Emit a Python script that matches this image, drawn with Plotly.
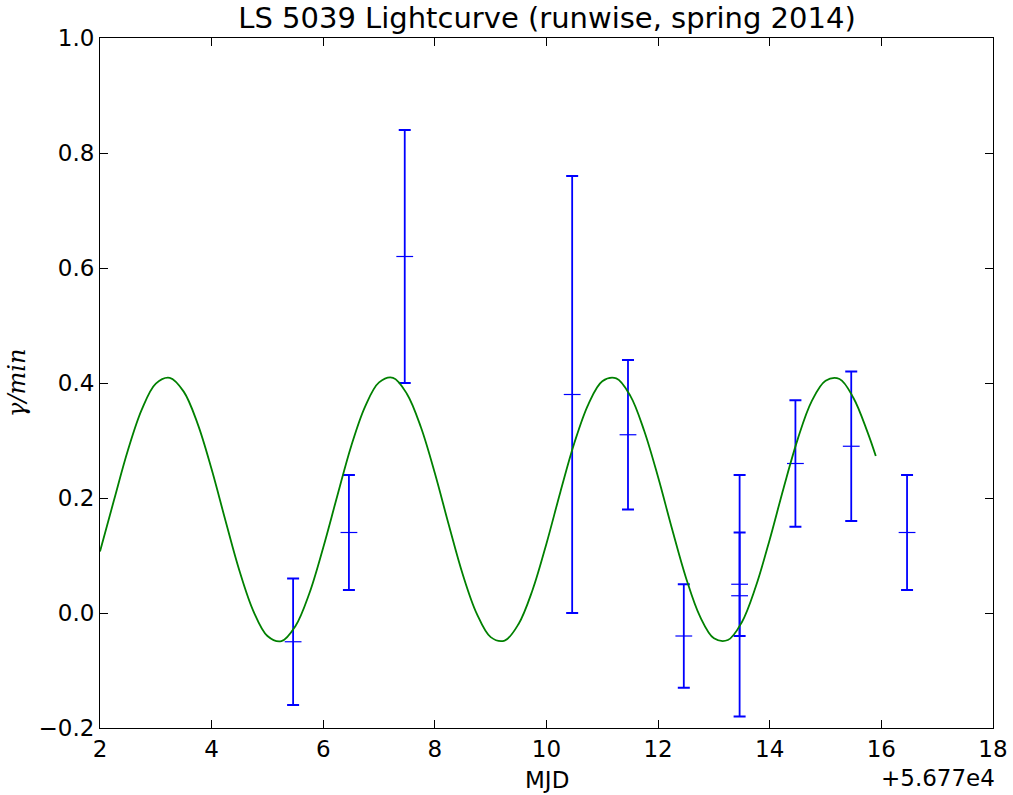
import plotly.graph_objects as go

# Measured points (MJD offset from 56770)
mjd = [5.46, 6.46, 7.46, 10.46, 11.46, 12.46, 13.46, 13.46, 14.46, 15.46, 16.46]
rate = [-0.05, 0.14, 0.62, 0.38, 0.31, -0.04, 0.03, 0.05, 0.26, 0.29, 0.14]
rate_err = [0.11, 0.10, 0.22, 0.38, 0.13, 0.09, 0.21, 0.09, 0.11, 0.13, 0.10]

# Model curve
curve_x = [2.0, 2.25, 2.5, 2.75, 3.0, 3.25, 3.5, 3.75, 4.0, 4.25, 4.5, 4.75,
           5.0, 5.25, 5.5, 5.75, 6.0, 6.25, 6.5, 6.75, 7.0, 7.25, 7.5, 7.75,
           8.0, 8.25, 8.5, 8.75, 9.0, 9.25, 9.5, 9.75, 10.0, 10.25, 10.5, 10.75,
           11.0, 11.25, 11.5, 11.75, 12.0, 12.25, 12.5, 12.75, 13.0, 13.25, 13.5,
           13.75, 14.0, 14.25, 14.5, 14.75, 15.0, 15.25, 15.5, 15.75, 15.9]
curve_y = [0.107, 0.196, 0.283, 0.354, 0.399, 0.409, 0.385, 0.329, 0.250, 0.160, 0.073, 0.003,
           -0.040, -0.049, -0.023, 0.034, 0.114, 0.203, 0.290, 0.359, 0.401, 0.409, 0.381, 0.323,
           0.243, 0.153, 0.067, -0.001, -0.042, -0.048, -0.019, 0.040, 0.121, 0.211, 0.296, 0.363,
           0.403, 0.408, 0.378, 0.317, 0.236, 0.146, 0.061, -0.006, -0.044, -0.047, -0.016,
           0.046, 0.128, 0.218, 0.302, 0.368, 0.404, 0.407, 0.374, 0.315, 0.273]

x_ticks = [2, 4, 6, 8, 10, 12, 14, 16, 18]
y_ticks = [-0.2, 0.0, 0.2, 0.4, 0.6, 0.8, 1.0]
y_ticktext = ["\u22120.2", "0.0", "0.2", "0.4", "0.6", "0.8", "1.0"]

fig = go.Figure()
fig.add_trace(go.Scatter(
    x=mjd, y=rate, mode="markers",
    marker=dict(symbol="line-ew-open", size=12, color="#0000ff",
                line=dict(color="rgba(60,60,255,0.85)", width=1.2)),
    error_y=dict(type="data", array=rate_err, visible=True, color="#0000ff",
                 thickness=1.8, width=6),
    showlegend=False,
))
fig.add_trace(go.Scatter(
    x=curve_x, y=curve_y, mode="lines", line=dict(color="#008000", width=1.8, shape="spline"),
    showlegend=False,
))

axis_common = dict(showgrid=False, zeroline=False, showline=True, linecolor="black",
                   linewidth=1, mirror="ticks", ticks="inside", ticklen=8, tickwidth=1,
                   tickcolor="black", tickfont=dict(family="DejaVu Sans", size=23, color="black"))

fig.update_layout(
    width=1013, height=795,
    margin=dict(l=100, r=20, t=38, b=67, autoexpand=False),
    paper_bgcolor="white", plot_bgcolor="white",
    title=dict(text="LS 5039 Lightcurve (runwise, spring 2014)", x=0.54, xanchor="center",
               y=0.978, yanchor="middle",
               font=dict(family="DejaVu Sans", size=29, color="black")),
    xaxis=dict(range=[2, 18], tickvals=x_ticks, ticktext=[str(v) for v in x_ticks],
               **axis_common),
    yaxis=dict(range=[-0.2, 1.0], tickvals=y_ticks, ticktext=y_ticktext, **axis_common),
    annotations=[
        dict(text="MJD", xref="paper", yref="paper", x=0.5, y=-0.076,
             xanchor="center", yanchor="middle", showarrow=False,
             font=dict(family="DejaVu Sans", size=23, color="black")),
        dict(text="+5.677e4", xref="paper", yref="paper", x=1.004, y=-0.073,
             xanchor="right", yanchor="middle", showarrow=False,
             font=dict(family="DejaVu Sans", size=23, color="black")),
        dict(text="<i>γ/min</i>", xref="paper", yref="paper", x=-0.093, y=0.5,
             xanchor="center", yanchor="middle", showarrow=False, textangle=-90,
             font=dict(family="DejaVu Serif", size=24, color="black")),
    ],
)

fig.write_html("out.html")
